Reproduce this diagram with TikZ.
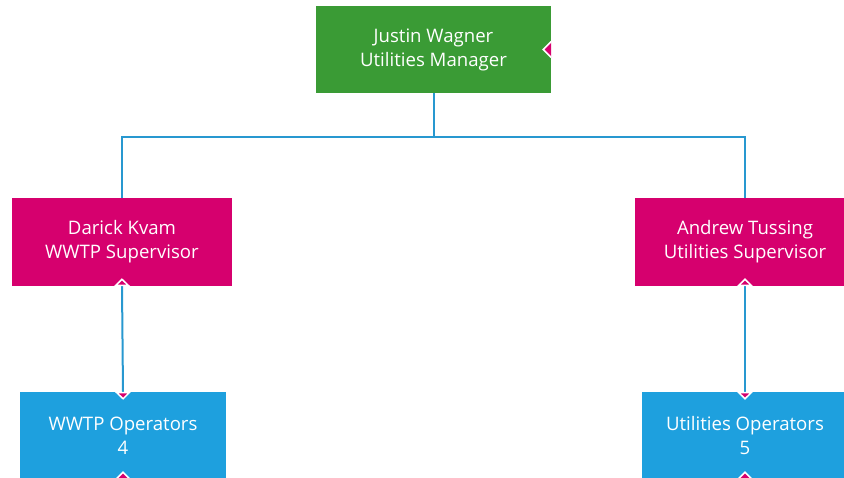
\documentclass[tikz,border=0pt]{standalone}
\usepackage{fontspec}
\setmainfont{Open Sans}
\usetikzlibrary{arrows.meta}

\definecolor{mgrGreen}{RGB}{58,155,53}
\definecolor{supMagenta}{RGB}{214,0,110}
\definecolor{opBlue}{RGB}{30,160,222}
\definecolor{lineBlue}{RGB}{40,152,208}

\tikzset{
  orgbox/.style={minimum width=220pt, minimum height=88pt, inner sep=0pt,
    align=center, text=white, font=\fontsize{18.6}{24}\selectfont},
  mgr/.style={orgbox, fill=mgrGreen, minimum width=235pt, minimum height=87pt},
  sup/.style={orgbox, fill=supMagenta},
  ops/.style={orgbox, fill=opBlue, minimum width=206pt},
  conn/.style={draw=lineBlue, line width=2pt},
  tip/.tip={Triangle[width=16pt, length=8pt, fill=supMagenta, color=white, line width=1.5pt]},
  notch/.style={fill=supMagenta, draw=white, line width=1.5pt, line join=miter}
}

\begin{document}
\begin{tikzpicture}[x=1pt, y=-1pt]
				\useasboundingbox (0,0) rectangle (844,477);
				\clip (0,0) rectangle (844,477);
				
				% boxes
				\node[mgr] (jw) at (433.5,49.5) {Justin Wagner\\Utilities Manager};
				\node[sup] (dk) at (122,242) {Darick Kvam\\WWTP Supervisor};
				\node[sup] (at) at (745,242) {Andrew Tussing\\Utilities Supervisor};
				\node[ops] (wo) at (123,436) {WWTP Operators\\4};
				\node[ops] (uo) at (745,436) {Utilities Operators\\5};
				
				% bus
				\coordinate (bus) at (433.5,137);
				\draw[conn] (jw.south) -- (bus) -| (dk.north);
				\draw[conn] (bus) -| (at.north);
				
				\draw[conn, {tip}-{tip}, shorten <=-8pt, shorten >=-8pt] (dk.south) -- (wo.north);
				\draw[conn, {tip}-{tip}, shorten <=-8pt, shorten >=-8pt] (at.south) -- (uo.north);
				
				% open ends
				\draw[notch] ([yshift=8pt]jw.east) -- ++(-8,8) -- ++(8,8);
				\draw[notch] ([xshift=-8pt]wo.south) -- ++(8,-8) -- ++(8,8);
				\draw[notch] ([xshift=-8pt]uo.south) -- ++(8,-8) -- ++(8,8);
			\end{tikzpicture}
\end{document}
